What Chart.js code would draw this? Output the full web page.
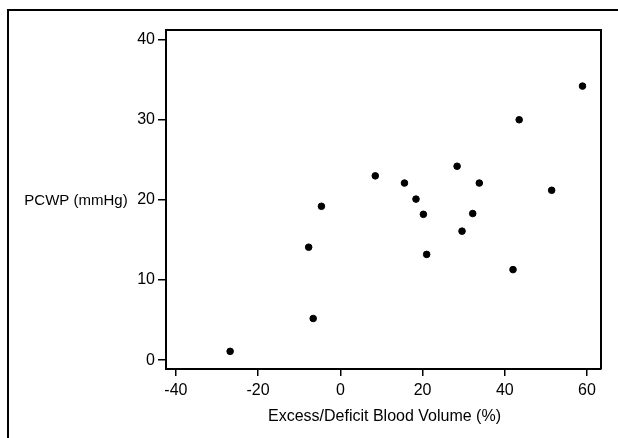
<!DOCTYPE html>
<html>
<head>
<meta charset="utf-8">
<style>
  html, body { margin: 0; padding: 0; background: #fff; }
  #wrap { width: 618px; height: 438px; position: relative; }
</style>
<script src="https://cdn.jsdelivr.net/npm/chart.js@4.4.1/dist/chart.umd.min.js"></script>
</head>
<body>
<div id="wrap"><canvas id="scatter" width="618" height="438"></canvas></div>
<script>
// blood volume excess/deficit (%) vs PCWP (mmHg)
var volumeExcess = [-26.8, -7.7, -6.6, -4.6, 8.5, 15.6, 18.4, 20.2, 21.0, 28.4, 29.6, 32.2, 33.8, 42.0, 43.5, 51.4, 58.9];
var pcwp         = [1.1, 14.1, 5.2, 19.2, 23.0, 22.1, 20.1, 18.2, 13.2, 24.2, 16.1, 18.3, 22.1, 11.3, 30.0, 21.2, 34.2];
var xTicks = [-40, -20, 0, 20, 40, 60];
var yTicks = [0, 10, 20, 30, 40];
var xTitle = 'Excess/Deficit Blood Volume (%)';
var yTitle = 'PCWP (mmHg)';

var points = [];
for (var i = 0; i < volumeExcess.length; i++) {
    points.push({x: volumeExcess[i], y: pcwp[i]});
}

// frame round the plot, outer page border and the two axis titles
var decorations = {
    id: 'decorations',
    afterDraw: function(chart) {
        var ctx = chart.ctx, a = chart.chartArea;
        ctx.save();
        ctx.strokeStyle = '#000';
        ctx.lineWidth = 2;
        ctx.beginPath();
        ctx.moveTo(a.left, a.top);
        ctx.lineTo(a.right, a.top);
        ctx.lineTo(a.right, a.bottom);
        ctx.stroke();

        ctx.beginPath();
        ctx.moveTo(618, 10);
        ctx.lineTo(8, 10);
        ctx.lineTo(8, 438);
        ctx.stroke();

        ctx.fillStyle = '#000';
        ctx.textBaseline = 'middle';
        ctx.textAlign = 'center';
        ctx.font = '15px "Liberation Sans", Arial, sans-serif';
        ctx.fillText(yTitle, 76, (a.top + a.bottom) / 2 + 1);
        ctx.font = '16px "Liberation Sans", Arial, sans-serif';
        ctx.fillText(xTitle, (a.left + a.right) / 2 + 1, 417);
        ctx.restore();
    }
};

new Chart(document.getElementById('scatter'), {
    type: 'scatter',
    data: {
        datasets: [{
            label: 'PCWP',
            data: points,
            backgroundColor: '#000',
            borderColor: '#000',
            pointRadius: 3.3,
            pointHoverRadius: 3.3
        }]
    },
    options: {
        responsive: false,
        animation: false,
        layout: { padding: { left: 0, top: 30, right: 17, bottom: 0 } },
        plugins: { legend: { display: false }, tooltip: { enabled: false } },
        scales: {
            x: {
                type: 'linear',
                min: -42.4,
                max: 63.4,
                afterFit: function(s) { s.height = 69; },
                afterBuildTicks: function(s) { s.ticks = xTicks.map(function(v) { return {value: v}; }); },
                border: { display: true, color: '#000', width: 2 },
                grid: { drawOnChartArea: false, drawTicks: true, tickLength: 7, color: '#000', lineWidth: 1.5 },
                ticks: { color: '#000', padding: 5, maxRotation: 0, font: { family: '"Liberation Sans", Arial, sans-serif', size: 16 } }
            },
            y: {
                type: 'linear',
                min: -1.1,
                max: 41.2,
                afterFit: function(s) { s.width = 166; },
                afterBuildTicks: function(s) { s.ticks = yTicks.map(function(v) { return {value: v}; }); },
                border: { display: true, color: '#000', width: 2 },
                grid: { drawOnChartArea: false, drawTicks: true, tickLength: 8, color: '#000', lineWidth: 1.5 },
                ticks: { color: '#000', padding: 3, font: { family: '"Liberation Sans", Arial, sans-serif', size: 16 } }
            }
        }
    },
    plugins: [decorations]
});
</script>
</body>
</html>
